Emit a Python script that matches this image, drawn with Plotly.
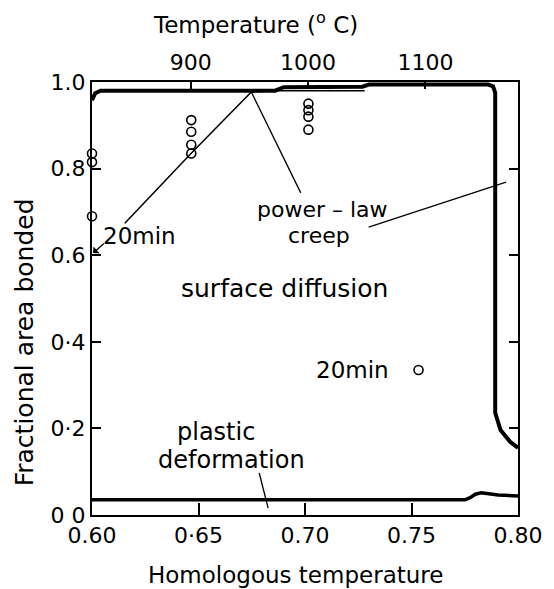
import plotly.graph_objects as go

# ---- data ----
# thick boundary: surface diffusion / power-law creep
bound_x = [0.600, 0.6015, 0.604, 0.686, 0.690, 0.727, 0.730, 0.786, 0.7883, 0.7893, 0.7893, 0.7918, 0.7963, 0.800]
bound_y = [0.958, 0.974, 0.980, 0.980, 0.988, 0.989, 0.994, 0.994, 0.990, 0.975, 0.236, 0.196, 0.169, 0.155]

# thin 20 min contour
min20_x = [0.6154, 0.6467, 0.6748, 0.686, 0.728]
min20_y = [0.674, 0.836, 0.977, 0.980, 0.980]

# plastic deformation boundary
plast_x = [0.600, 0.7752, 0.7775, 0.7800, 0.7827, 0.7860, 0.7907, 0.800]
plast_y = [0.035, 0.035, 0.040, 0.048, 0.0515, 0.050, 0.046, 0.044]

# experimental points (open circles)
pts_x = [0.600, 0.600, 0.600, 0.6466, 0.6466, 0.6466, 0.6466, 0.7016, 0.7016, 0.7016, 0.7016, 0.7533]
pts_y = [0.835, 0.815, 0.690, 0.912, 0.885, 0.855, 0.835, 0.950, 0.935, 0.920, 0.890, 0.335]

# leader lines
lead_pl1_x = [0.698, 0.6748]
lead_pl1_y = [0.744, 0.977]
lead_pl2_x = [0.7299, 0.7944]
lead_pl2_y = [0.665, 0.769]
lead_pd_x = [0.6785, 0.6827]
lead_pd_y = [0.097, 0.016]

# axes
x_ticks = [0.60, 0.65, 0.70, 0.75, 0.80]
x_ticktext = ["0.60", "0·65", "0.70", "0.75", "0.80"]
y_ticks = [0.0, 0.2, 0.4, 0.6, 0.8, 1.0]
y_ticktext = ["0 0", "0·2", "0·4", "0.6", "0.8", "1.0"]
top_temps_C = [900, 1000, 1100]
melting_K = 1815.0

FONT = "DejaVu Sans"
BLK = "black"

fig = go.Figure()
fig.add_trace(go.Scatter(x=bound_x, y=bound_y, mode="lines",
                         line=dict(color=BLK, width=4), cliponaxis=False, showlegend=False))
fig.add_trace(go.Scatter(x=min20_x, y=min20_y, mode="lines",
                         line=dict(color=BLK, width=1.5), cliponaxis=False, showlegend=False))
fig.add_trace(go.Scatter(x=plast_x, y=plast_y, mode="lines",
                         line=dict(color=BLK, width=3.5), cliponaxis=False, showlegend=False))
for lx, ly in [(lead_pl1_x, lead_pl1_y), (lead_pl2_x, lead_pl2_y), (lead_pd_x, lead_pd_y)]:
    fig.add_trace(go.Scatter(x=lx, y=ly, mode="lines",
                             line=dict(color=BLK, width=1.3), cliponaxis=False, showlegend=False))
fig.add_trace(go.Scatter(x=pts_x, y=pts_y, mode="markers",
                         marker=dict(symbol="circle-open", size=9, color=BLK, line=dict(width=1.6)),
                         cliponaxis=False, showlegend=False))

# invisible trace to activate top axis
fig.add_trace(go.Scatter(x=[0.6, 0.8], y=[0, 0], xaxis="x2", mode="lines",
                         line=dict(width=0), hoverinfo="skip", showlegend=False))

top_pos = [(t + 273.15) / melting_K for t in top_temps_C]

fig.update_layout(
    width=554, height=589,
    margin=dict(l=92, r=34, t=82, b=74),
    paper_bgcolor="white", plot_bgcolor="white",
    font=dict(family=FONT, size=22, color=BLK),
    xaxis=dict(range=[0.6, 0.8], tickvals=x_ticks, ticktext=x_ticktext,
               ticks="inside", ticklen=12, tickwidth=1.5, tickcolor=BLK,
               showline=True, linecolor=BLK, linewidth=1.5, mirror=True,
               showgrid=False, zeroline=False,
               tickfont=dict(family=FONT, size=22)),
    xaxis2=dict(range=[0.6, 0.8], overlaying="x", side="top",
                tickvals=top_pos, ticktext=[str(t) for t in top_temps_C],
                ticks="inside", ticklen=7, tickwidth=1.5, tickcolor=BLK,
                showline=False, showgrid=False, zeroline=False, ticklabelstandoff=7,
                tickfont=dict(family=FONT, size=22)),
    yaxis=dict(range=[0, 1.0], tickvals=y_ticks, ticktext=y_ticktext,
               ticks="inside", ticklen=9, tickwidth=1.5, tickcolor=BLK,
               showline=True, linecolor=BLK, linewidth=2, mirror="ticks",
               showgrid=False, zeroline=False,
               tickfont=dict(family=FONT, size=22)),
)

def txt(x, y, s, size=23):
    fig.add_annotation(x=x, y=y, xref="x", yref="y", text=s, showarrow=False,
                       font=dict(family=FONT, size=size, color=BLK),
                       xanchor="center", yanchor="middle")

txt(0.7084, 0.706, "power – law", 22)
txt(0.7065, 0.645, "creep", 22)
txt(0.6902, 0.524, "surface diffusion", 25)
txt(0.7224, 0.335, "20min", 23)
txt(0.658, 0.192, "plastic", 24)
txt(0.6654, 0.127, "deformation", 24)
txt(0.6225, 0.645, "20min", 23)

# arrow from the 20 min label to the start of the contour
fig.add_annotation(x=0.6005, y=0.605, xref="x", yref="y", ax=0.6063, ay=0.630,
                   axref="x", ayref="y", text="", showarrow=True, arrowhead=1,
                   arrowsize=1.2, arrowwidth=1.3, arrowcolor=BLK, standoff=0)

# pixel -> paper conversion for titles
pw = 554 - 92 - 34
ph = 589 - 82 - 74
def px2paper(px, py):
    return (px - 92) / pw, (589 - 74 - py) / ph

hx, hy = px2paper(296, 575)
tx, ty = px2paper(256, 23)
yx, yy = px2paper(24, 342)
fig.add_annotation(x=hx, y=hy, xref="paper", yref="paper", text="Homologous temperature",
                   showarrow=False, xanchor="center", yanchor="middle",
                   font=dict(family=FONT, size=23, color=BLK))
fig.add_annotation(x=tx, y=ty, xref="paper", yref="paper", text="Temperature (<sup>o</sup> C)",
                   showarrow=False, xanchor="center", yanchor="middle",
                   font=dict(family=FONT, size=23, color=BLK))
fig.add_annotation(x=yx, y=yy, xref="paper", yref="paper", text="Fractional area bonded",
                   showarrow=False, xanchor="center", yanchor="middle", textangle=-90,
                   font=dict(family=FONT, size=25, color=BLK))

fig.write_html("out.html")
